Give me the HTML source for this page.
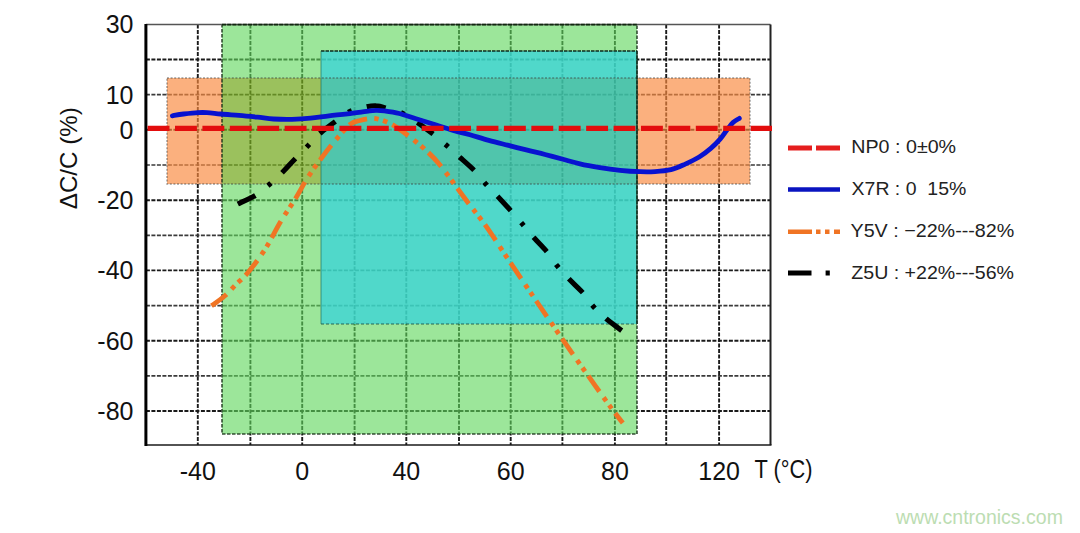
<!DOCTYPE html>
<html><head><meta charset="utf-8"><title>Capacitor temperature characteristics</title>
<style>html,body{margin:0;padding:0;background:#fff;width:1080px;height:533px;overflow:hidden}svg{display:block}</style>
</head><body>
<svg width="1080" height="533" viewBox="0 0 1080 533"><rect x="0" y="0" width="1080" height="533" fill="#fff"/>
<path d="M197.8,24.4V445.0M250.4,24.4V445.0M302.2,24.4V445.0M354.6,24.4V445.0M406.3,24.4V445.0M459.0,24.4V445.0M510.7,24.4V445.0M562.4,24.4V445.0M614.9,24.4V445.0M666.2,24.4V445.0M719.1,24.4V445.0M145.9,59.5H770.5M145.9,129.8H770.5M145.9,200.2H770.5M145.9,270.4H770.5M145.9,340.7H770.5M145.9,411.0H770.5" stroke="#1a1a1a" stroke-width="1.9" stroke-dasharray="4 1.5" fill="none"/>
<path d="M145.9,94.7H770.5M145.9,165.0H770.5M145.9,235.3H770.5M145.9,305.6H770.5M145.9,375.9H770.5" stroke="#3a3a3a" stroke-width="1.7" stroke-dasharray="4 1.5" fill="none"/>
<rect x="222.0" y="24.0" width="415.0" height="27.0" fill="#5FD75C" fill-opacity="0.62"/>
<rect x="222.0" y="51.0" width="99.0" height="27.0" fill="#5FD75C" fill-opacity="0.62"/>
<rect x="222.0" y="184.0" width="99.0" height="250.0" fill="#5FD75C" fill-opacity="0.62"/>
<rect x="321.0" y="324.0" width="316.0" height="110.0" fill="#5FD75C" fill-opacity="0.62"/>
<rect x="321.0" y="51.0" width="316.0" height="27.0" fill="#3DD4C4" fill-opacity="0.90"/>
<rect x="321.0" y="184.0" width="316.0" height="140.0" fill="#3DD4C4" fill-opacity="0.90"/>
<rect x="167.0" y="78.0" width="55.0" height="106.0" fill="#F9893E" fill-opacity="0.67"/>
<rect x="222.0" y="78.0" width="99.0" height="106.0" fill="#74A91F" fill-opacity="0.72"/>
<rect x="321.0" y="78.0" width="316.0" height="106.0" fill="#3DBFA3" fill-opacity="0.90"/>
<rect x="637.0" y="78.0" width="113.0" height="106.0" fill="#F9893E" fill-opacity="0.67"/>
<path d="M222.0,24.0V434.0H637.0V24.0" stroke="#163016" stroke-opacity="0.85" stroke-width="1.6" stroke-dasharray="3.5 1.5" fill="none"/>
<rect x="167.0" y="78.0" width="583.0" height="106.0" stroke="#3a3a3a" stroke-opacity="0.5" stroke-width="1.4" stroke-dasharray="2 1.6" fill="none"/>
<path d="M321.0,51.0H637.0" stroke="#0c2a1c" stroke-width="1.7" stroke-dasharray="3.5 1" fill="none"/>
<path d="M637.0,51.0V324.0" stroke="#0c2a1c" stroke-opacity="0.85" stroke-width="1.5" fill="none"/>
<path d="M321.0,51.0V324.0" stroke="#1a6a5a" stroke-opacity="0.5" stroke-width="1.3" fill="none"/>
<path d="M321.0,324.0H637.0" stroke="#1a5a4a" stroke-opacity="0.6" stroke-width="1.4" stroke-dasharray="3 2" fill="none"/>
<path d="M145.9,24.4H770.5" stroke="#555" stroke-width="1.5" fill="none"/>
<path d="M770.5,24.4V445.0" stroke="#222" stroke-width="2" fill="none"/>
<path d="M222.0,24.7H637.0" stroke="#10280f" stroke-width="1.8" stroke-dasharray="4 1.2" fill="none"/>
<path d="M145.9,445.0H771.5" stroke="#1a1a1a" stroke-width="1.7" fill="none"/>
<path d="M145.9,23.9V446.0" stroke="#000" stroke-width="3" fill="none"/>
<path d="M237.8,204.0 C240.8,202.5 250.5,198.5 255.8,195.2 C261.1,191.9 265.2,188.0 269.6,184.3 C274.0,180.6 277.7,177.1 282.0,172.8 C286.3,168.5 290.9,163.2 295.2,158.7 C299.5,154.2 303.6,150.2 307.7,146.0 C311.8,141.8 314.8,138.0 319.5,133.8 C324.2,129.6 331.0,124.7 336.0,121.0 C341.0,117.3 344.6,113.8 349.6,111.5 C354.6,109.2 361.6,108.0 366.0,107.0 C370.4,106.0 372.4,105.5 376.0,105.8 C379.6,106.0 383.0,107.2 387.5,108.5 C392.0,109.8 397.8,111.0 403.0,113.5 C408.2,116.0 413.5,119.8 418.6,123.3 C423.7,126.8 428.9,130.8 433.6,134.5 C438.3,138.2 442.6,142.0 447.0,145.8 C451.4,149.6 455.3,153.3 460.0,157.5 C464.7,161.7 470.6,166.8 475.0,171.2 C479.4,175.8 482.5,180.3 486.2,184.5 C490.0,188.7 493.3,191.8 497.5,196.2 C501.7,200.7 507.1,206.6 511.2,211.2 C515.4,215.9 518.8,219.9 522.5,224.2 C526.2,228.6 529.6,232.8 533.8,237.5 C537.9,242.2 543.5,247.7 547.5,252.5 C551.5,257.3 554.0,261.9 557.5,266.2 C561.0,270.6 564.4,274.2 568.8,278.8 C573.1,283.3 579.6,289.0 583.8,293.8 C587.9,298.5 590.0,302.8 593.8,307.0 C597.5,311.2 601.5,314.7 606.2,318.8 C611.0,322.8 619.8,329.2 622.5,331.2" stroke="#000" stroke-width="5.1" stroke-dasharray="19.5 15.9 4 15.2" fill="none"/>
<path d="M211.5,305.8 C213.7,304.2 220.5,299.6 224.6,296.0 C228.7,292.4 231.9,288.6 236.0,284.5 C240.1,280.4 244.1,277.3 249.0,271.3 C253.9,265.3 260.5,256.5 265.7,248.3 C270.9,240.1 275.5,230.2 280.4,222.0 C285.3,213.8 290.5,206.6 295.2,199.0 C299.9,191.4 303.9,183.4 308.3,176.6 C312.7,169.8 317.4,163.6 321.5,158.0 C325.6,152.4 328.3,148.8 333.0,143.3 C337.7,137.8 345.0,128.6 349.5,124.8 C354.0,121.0 356.2,121.6 360.0,120.5 C363.8,119.4 368.7,118.5 372.0,118.3 C375.3,118.1 377.7,119.0 380.0,119.6 C382.3,120.2 383.5,120.6 386.0,121.7 C388.5,122.8 391.0,123.8 395.0,126.3 C399.0,128.8 406.3,134.3 410.0,137.0 C413.7,139.7 414.6,140.7 417.0,142.7 C419.4,144.7 420.5,145.2 424.3,148.8 C428.1,152.5 432.7,156.1 439.6,164.6 C446.6,173.1 458.3,189.7 466.0,200.0 C473.7,210.3 478.4,215.5 486.0,226.2 C493.6,236.9 502.9,251.6 511.4,264.2 C519.9,276.8 528.5,289.5 537.0,302.0 C545.5,314.5 553.9,326.8 562.3,339.0 C570.7,351.2 579.3,363.3 587.6,375.0 C595.9,386.7 606.1,401.0 612.0,409.0 C617.9,417.0 621.0,420.7 622.8,423.0" stroke="#F07424" stroke-width="4.8" stroke-dasharray="19 7.2 4.5 4.8 4.5 5.78" fill="none"/>
<path d="M172.4,115.8 C174.2,115.5 179.2,114.5 183.5,114.0 C187.8,113.5 194.1,112.8 198.0,112.6 C201.9,112.4 203.2,112.4 207.0,112.6 C210.8,112.8 215.3,113.5 220.6,114.0 C225.9,114.5 232.8,114.9 239.0,115.4 C245.2,115.9 251.9,116.6 257.6,117.2 C263.4,117.8 267.8,118.7 273.5,119.0 C279.2,119.3 285.8,119.5 292.0,119.3 C298.2,119.1 304.4,118.7 310.6,118.1 C316.8,117.5 322.8,116.5 329.0,115.8 C335.2,115.1 340.8,114.6 347.6,113.8 C354.4,113.0 364.7,111.5 369.6,110.9 C374.5,110.3 374.5,110.4 377.0,110.4 C379.5,110.4 380.7,110.4 384.4,110.9 C388.1,111.4 394.0,112.2 399.3,113.5 C404.6,114.8 409.8,116.9 416.0,118.8 C422.2,120.7 429.8,123.0 436.3,125.0 C442.8,127.0 449.4,129.4 455.0,131.0 C460.6,132.6 464.4,133.2 470.0,134.8 C475.6,136.4 482.6,138.7 488.8,140.4 C495.1,142.1 501.2,143.6 507.5,145.2 C513.8,146.8 520.0,148.3 526.3,149.9 C532.5,151.5 538.8,152.9 545.0,154.5 C551.2,156.1 558.0,157.9 563.8,159.5 C569.6,161.1 574.0,162.5 580.0,163.8 C586.0,165.2 593.3,166.5 600.0,167.6 C606.7,168.7 613.3,169.6 620.0,170.3 C626.7,171.0 634.2,171.5 640.0,171.7 C645.8,171.9 649.8,171.9 655.0,171.6 C660.2,171.3 666.0,170.9 671.0,169.7 C676.0,168.4 680.5,166.2 685.2,164.1 C689.9,162.0 695.0,159.6 699.2,157.0 C703.4,154.4 707.0,151.6 710.5,148.6 C714.0,145.6 717.6,141.9 720.3,138.8 C723.0,135.8 724.6,133.0 726.7,130.3 C728.8,127.6 730.9,124.6 733.0,122.6 C735.1,120.6 738.2,119.1 739.3,118.4" stroke="#0812D0" stroke-width="4.8" stroke-linecap="round" fill="none"/>
<path d="M147.6,128.4H772" stroke="#E30D0D" stroke-width="5.2" stroke-dasharray="21.9 5.51" fill="none"/>
<text x="133.5" y="33.4" text-anchor="end" font-size="25" fill="#111" font-family="'Liberation Sans', sans-serif">30</text>
<text x="133.5" y="103.7" text-anchor="end" font-size="25" fill="#111" font-family="'Liberation Sans', sans-serif">10</text>
<text x="133.5" y="138.8" text-anchor="end" font-size="25" fill="#111" font-family="'Liberation Sans', sans-serif">0</text>
<text x="133.5" y="209.2" text-anchor="end" font-size="25" fill="#111" font-family="'Liberation Sans', sans-serif">-20</text>
<text x="133.5" y="279.4" text-anchor="end" font-size="25" fill="#111" font-family="'Liberation Sans', sans-serif">-40</text>
<text x="133.5" y="349.7" text-anchor="end" font-size="25" fill="#111" font-family="'Liberation Sans', sans-serif">-60</text>
<text x="133.5" y="420.0" text-anchor="end" font-size="25" fill="#111" font-family="'Liberation Sans', sans-serif">-80</text>
<text x="197.8" y="480" text-anchor="middle" font-size="25" fill="#111" font-family="'Liberation Sans', sans-serif">-40</text>
<text x="302.2" y="480" text-anchor="middle" font-size="25" fill="#111" font-family="'Liberation Sans', sans-serif">0</text>
<text x="406.3" y="480" text-anchor="middle" font-size="25" fill="#111" font-family="'Liberation Sans', sans-serif">40</text>
<text x="510.7" y="480" text-anchor="middle" font-size="25" fill="#111" font-family="'Liberation Sans', sans-serif">60</text>
<text x="614.9" y="480" text-anchor="middle" font-size="25" fill="#111" font-family="'Liberation Sans', sans-serif">80</text>
<text x="719.1" y="480" text-anchor="middle" font-size="25" fill="#111" font-family="'Liberation Sans', sans-serif">120</text>
<text x="754.5" y="478" font-size="25" fill="#111" textLength="58" lengthAdjust="spacingAndGlyphs" font-family="'Liberation Sans', sans-serif">T (°C)</text>
<text transform="translate(76.5,158.2) rotate(-90)" text-anchor="middle" font-size="24" fill="#111" textLength="102" lengthAdjust="spacingAndGlyphs" font-family="'Liberation Sans', sans-serif">ΔC/C (%)</text>
<path d="M788,148H840" stroke="#E51E1E" stroke-width="5" stroke-dasharray="24 4" fill="none"/>
<path d="M788,189.4H840" stroke="#0A14C0" stroke-width="4.5" fill="none"/>
<path d="M788,231.7H840" stroke="#F07424" stroke-width="4.6" stroke-dasharray="24 4 4.5 4.5 4.5 4.5 6" fill="none"/>
<path d="M788,273H811.5M825.6,273H829.8" stroke="#000" stroke-width="5" fill="none"/>
<text x="851.3" y="153.0" font-size="18.5" fill="#222" textLength="104.8" lengthAdjust="spacingAndGlyphs" font-family="'Liberation Sans', sans-serif" xml:space="preserve">NP0 : 0±0%</text>
<text x="851.6" y="195.0" font-size="18.5" fill="#222" textLength="114.7" lengthAdjust="spacingAndGlyphs" font-family="'Liberation Sans', sans-serif" xml:space="preserve">X7R : 0  15%</text>
<text x="850.5" y="236.8" font-size="18.5" fill="#222" textLength="163.8" lengthAdjust="spacingAndGlyphs" font-family="'Liberation Sans', sans-serif" xml:space="preserve">Y5V : −22%---82%</text>
<text x="851.3" y="278.8" font-size="18.5" fill="#222" textLength="162.7" lengthAdjust="spacingAndGlyphs" font-family="'Liberation Sans', sans-serif" xml:space="preserve">Z5U : +22%---56%</text>
<text x="896" y="524" font-size="19.5" fill="#BCDDB2" font-family="'Liberation Sans', sans-serif">www.cntronics.com</text></svg>
</body></html>
